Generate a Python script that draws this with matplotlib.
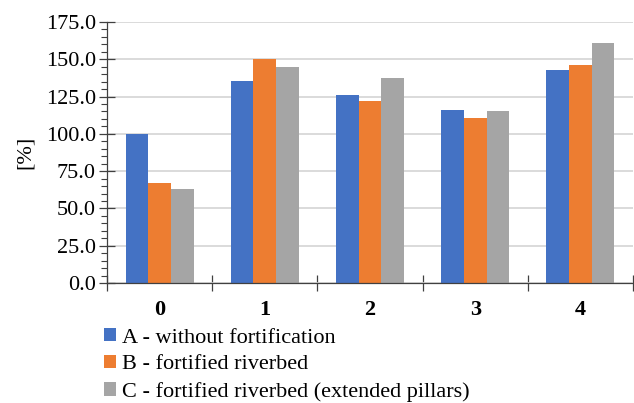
import matplotlib.pyplot as plt
import matplotlib.ticker as mticker
import numpy as np

# 数据
categories = ['0', '1', '2', '3', '4']
series_names = ['A - without fortification',
                'B - fortified riverbed',
                'C - fortified riverbed (extended pillars)']
values_a = [100.0, 135.3, 126.2, 116.3, 143.0]
values_b = [67.2, 150.0, 122.0, 110.3, 146.2]
values_c = [63.2, 145.0, 137.2, 115.0, 161.0]
colors = ['#4472C4', '#ED7D31', '#A5A5A5']

plt.rcParams['font.family'] = ['Liberation Serif', 'DejaVu Serif']

fig = plt.figure(figsize=(6.34, 4.03), dpi=100)
ax = fig.add_axes([107 / 634, 1 - 283 / 403, 526 / 634, 261 / 403])

x = np.arange(len(categories))
bar_w = 0.216
for i, (vals, name) in enumerate(zip([values_a, values_b, values_c], series_names)):
    ax.bar(x + (i - 1) * bar_w, vals, width=bar_w, color=colors[i],
           label=name, zorder=3)

# y 轴
ax.set_ylim(0, 175)
ax.yaxis.set_major_locator(mticker.MultipleLocator(25))
ax.yaxis.set_minor_locator(mticker.MultipleLocator(5))
ax.yaxis.set_major_formatter(mticker.FormatStrFormatter('%.1f'))
ax.grid(axis='y', color='#D4D4D4', linewidth=1.2, zorder=0)
ax.tick_params(axis='y', which='major', direction='inout', length=12,
               width=0.9, color='#404040', labelsize=16, pad=2)
ax.tick_params(axis='y', which='minor', direction='out', length=4,
               width=0.8, color='#404040')
ax.set_ylabel('[%]', fontsize=16, labelpad=8)

# x 轴：刻度在分类边界，标签在中间
ax.set_xlim(-0.5, len(categories) - 0.5)
ax.set_xticks(np.arange(len(categories) + 1) - 0.5)
ax.set_xticklabels([])
ax.set_xticks(x, minor=True)
ax.set_xticklabels(categories, minor=True, fontsize=16, fontweight='bold')
ax.tick_params(axis='x', which='major', direction='inout', length=11,
               width=0.9, color='#404040')
ax.tick_params(axis='x', which='minor', length=0, pad=12)

for s in ['top', 'right']:
    ax.spines[s].set_visible(False)
for s in ['left', 'bottom']:
    ax.spines[s].set_color('#404040')
    ax.spines[s].set_linewidth(0.9)
    ax.spines[s].set_zorder(4)

fig.legend(loc='upper left', bbox_to_anchor=(104 / 634, 1 - 328 / 403),
           frameon=False, fontsize=16, handlelength=0.55, handleheight=0.55,
           handletextpad=0.25, labelspacing=0.33, borderpad=0, borderaxespad=0)

fig.savefig('out.png', dpi=100)
